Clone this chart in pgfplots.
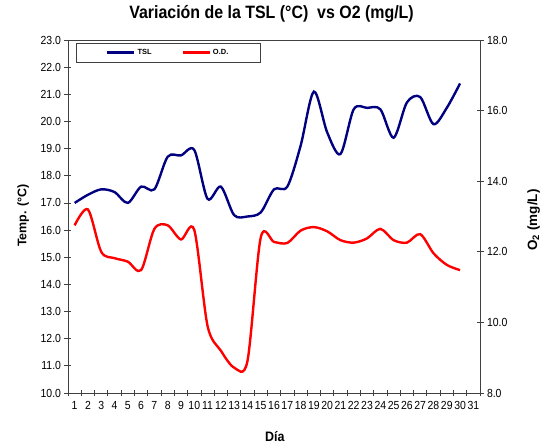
\documentclass[border=0pt]{standalone}
\usepackage{pgfplots}
\pgfplotsset{compat=1.18}
\usepackage{fontspec}
\setmainfont{Liberation Sans}
\definecolor{tslblue}{RGB}{0,0,128}
\definecolor{odred}{RGB}{255,0,0}
\definecolor{axgray}{RGB}{64,64,64}
\pgfplotstableread{
dia tsl
1 17.0
2 17.3
3 17.5
4 17.4
5 17.0
6 17.6
7 17.5
8 18.7
9 18.75
10 18.95
11 17.15
12 17.6
13 16.55
14 16.5
15 16.65
16 17.5
17 17.6
18 19.1
19 21.1
20 19.6
21 18.8
22 20.45
23 20.5
24 20.45
25 19.4
26 20.7
27 20.9
28 19.9
29 20.5
30 21.4
}\tsldata
\pgfplotstableread{
dia od
1 12.75
2 13.2
3 12.0
4 11.82
5 11.72
6 11.48
7 12.65
8 12.75
9 12.35
10 12.62
11 9.9
12 9.2
13 8.72
14 8.9
15 12.4
16 12.28
17 12.25
18 12.6
19 12.7
20 12.58
21 12.33
22 12.26
23 12.38
24 12.65
25 12.33
26 12.26
27 12.5
28 11.96
29 11.63
30 11.48
}\oddata
\pgfplotsset{
  common/.style={
    scale only axis, width=412bp, height=353bp,
    at={(0,0)}, anchor=south west,
    xmin=0.5, xmax=31.5,
    tick align=center,
    major tick length=7bp, minor tick length=7bp,
    /pgf/number format/assume math mode=true,
    tick label style={font=\fontsize{10.5}{12}\selectfont, text=black, yscale=1.12},
    axis line style={axgray, line width=0.8pt},
    every tick/.style={axgray, line width=0.8pt},
    yticklabel style={/pgf/number format/.cd, fixed, fixed zerofill, precision=1},
  }
}
\begin{document}
\begin{tikzpicture}
\begin{axis}[common,
  ymin=10, ymax=23, ytick={10,11,...,23},
  axis y line*=left,
  xtick={1,2,...,31},
  xtick pos=bottom,
  major x tick style={draw=none},
  minor xtick={0.5,1.5,...,31.5},
  xticklabel style={yshift=-1bp},
  title={Variación de la TSL (°C)\ \ vs O2 (mg/L)},
  title style={at={(axis description cs:0.494,1.0567)}, anchor=center, yscale=1.12, font=\bfseries\fontsize{16}{19}\selectfont},
  xlabel={Día},
  xlabel style={at={(axis description cs:0.502,-0.1246)}, anchor=center, yscale=1.1, font=\bfseries\fontsize{12.5}{14}\selectfont},
  ylabel={Temp. (°C)},
  ylabel style={at={(axis description cs:-0.109,0.503)}, anchor=center, font=\bfseries\fontsize{12.5}{14}\selectfont},
]
\addplot[tslblue, line width=2.4pt, smooth] table[x=dia, y=tsl] {\tsldata};
\end{axis}
\begin{axis}[common,
  ymin=8, ymax=18, ytick={8,10,...,18},
  axis y line*=right,
  axis x line=none,
  ylabel={O\textsubscript{2} (mg/L)},
  ylabel style={at={(axis description cs:1.13,0.49)}, anchor=center, font=\bfseries\fontsize{13.5}{15}\selectfont},
  legend columns=2,
  legend style={at={(0.019,0.992)}, anchor=north west, draw=axgray, line width=0.6pt,
    font=\bfseries\fontsize{7.5}{8}\selectfont, inner xsep=30bp, inner ysep=4bp,
    /tikz/every even column/.append style={column sep=28bp}},
  legend image code/.code={\draw[#1, line width=2.4pt] (0bp,0bp) -- (27bp,0bp);},
]
\addlegendimage{tslblue}
\addlegendentry{TSL}
\addplot[odred, line width=2.4pt, smooth] table[x=dia, y=od] {\oddata};
\addlegendentry{O.D.}
\end{axis}
\pgfresetboundingbox
\path[use as bounding box] (-68bp,-51bp) rectangle (479bp,393bp);
\end{tikzpicture}
\end{document}
